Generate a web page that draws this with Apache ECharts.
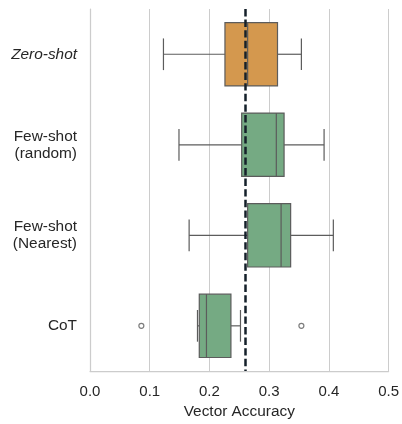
<!DOCTYPE html>
<html>
<head>
<meta charset="utf-8">
<script src="https://cdn.jsdelivr.net/npm/echarts@6/dist/echarts.min.js"></script>
<style>html,body{margin:0;padding:0;background:#fff}#c{width:402px;height:424px}</style>
</head>
<body>
<div id="c"></div>
<script>
const categories = ['Zero-shot', 'Few-shot\n(random)', 'Few-shot\n(Nearest)', 'CoT'];
const whiskerLow = [0.123, 0.149, 0.166, 0.180];
const q1 = [0.226, 0.254, 0.264, 0.183];
const median = [0.264, 0.312, 0.320, 0.195];
const q3 = [0.314, 0.325, 0.336, 0.236];
const whiskerHigh = [0.354, 0.392, 0.4075, 0.252];
const outlierCategory = ['CoT', 'CoT'];
const outlierValue = [0.086, 0.354];
const referenceValue = 0.2645;
const boxColors = ['#D4984E', '#75AA83', '#75AA83', '#75AA83'];

const FONT = 'Liberation Sans, Arial, sans-serif';
const edge = '#5c5c5c';

const boxData = categories.map((c, i) => [i, whiskerLow[i], q1[i], median[i], q3[i], whiskerHigh[i]]);
const outlierData = outlierValue.map((v, i) => [v, outlierCategory[i]]);

const chart = echarts.init(document.getElementById('c'));
chart.setOption({
  animation: false,
  grid: { left: 90, right: 12, top: 9, bottom: 51 },
  xAxis: {
    type: 'value', min: 0, max: 0.5, interval: 0.1,
    axisLine: { show: true, lineStyle: { color: '#cccccc', width: 1.25 } },
    axisTick: { show: false },
    splitLine: { show: true, lineStyle: { color: '#cccccc', width: 1 } },
    axisLabel: { color: '#262626', fontSize: 15, fontFamily: FONT, margin: 13,
      formatter: v => v.toFixed(1) },
    name: 'Vector Accuracy', nameLocation: 'middle', nameGap: 31,
    nameTextStyle: { color: '#262626', fontSize: 15.4, fontFamily: FONT }
  },
  yAxis: {
    type: 'category', data: categories, inverse: true,
    axisLine: { show: true, lineStyle: { color: '#cccccc', width: 1.25 } },
    axisTick: { show: false },
    splitLine: { show: false },
    axisLabel: {
      color: '#262626', fontSize: 15.4, fontFamily: FONT, margin: 13, lineHeight: 17, align: 'right',
      formatter: (v, i) => i === 0 ? '{it|' + v + '}' : v,
      rich: { it: { fontStyle: 'italic', fontSize: 15.4, fontFamily: FONT, color: '#262626' } }
    }
  },
  series: [
    {
      type: 'custom',
      data: boxData,
      encode: { x: [1, 2, 3, 4, 5], y: 0 },
      renderItem: function (params, api) {
        const cat = api.value(0);
        const lo = api.coord([api.value(1), cat]);
        const b1 = api.coord([api.value(2), cat]);
        const md = api.coord([api.value(3), cat]);
        const b3 = api.coord([api.value(4), cat]);
        const hi = api.coord([api.value(5), cat]);
        const band = api.size([0, 1])[1];
        const bh = band * 0.7;
        const ch = bh / 2;
        const y = lo[1];
        const ls = { stroke: edge, lineWidth: 1.2 };
        return {
          type: 'group',
          children: [
            { type: 'line', shape: { x1: lo[0], y1: y, x2: b1[0], y2: y }, style: ls },
            { type: 'line', shape: { x1: b3[0], y1: y, x2: hi[0], y2: y }, style: ls },
            { type: 'line', shape: { x1: lo[0], y1: y - ch / 2, x2: lo[0], y2: y + ch / 2 }, style: ls },
            { type: 'line', shape: { x1: hi[0], y1: y - ch / 2, x2: hi[0], y2: y + ch / 2 }, style: ls },
            { type: 'rect', shape: { x: b1[0], y: y - bh / 2, width: b3[0] - b1[0], height: bh },
              style: { fill: boxColors[params.dataIndex], stroke: edge, lineWidth: 1.2 } },
            { type: 'line', shape: { x1: md[0], y1: y - bh / 2, x2: md[0], y2: y + bh / 2 }, style: ls }
          ]
        };
      },
      markLine: {
        silent: true, symbol: 'none', label: { show: false },
        lineStyle: { color: '#15202a', width: 2.5, type: [7.4, 3.2] },
        data: [{ xAxis: referenceValue }]
      },
      z: 2
    },
    {
      type: 'scatter',
      data: outlierData,
      symbol: 'circle', symbolSize: 5,
      itemStyle: { color: '#ffffff', borderColor: edge, borderWidth: 1.2 },
      z: 3
    }
  ]
});
</script>
</body>
</html>
